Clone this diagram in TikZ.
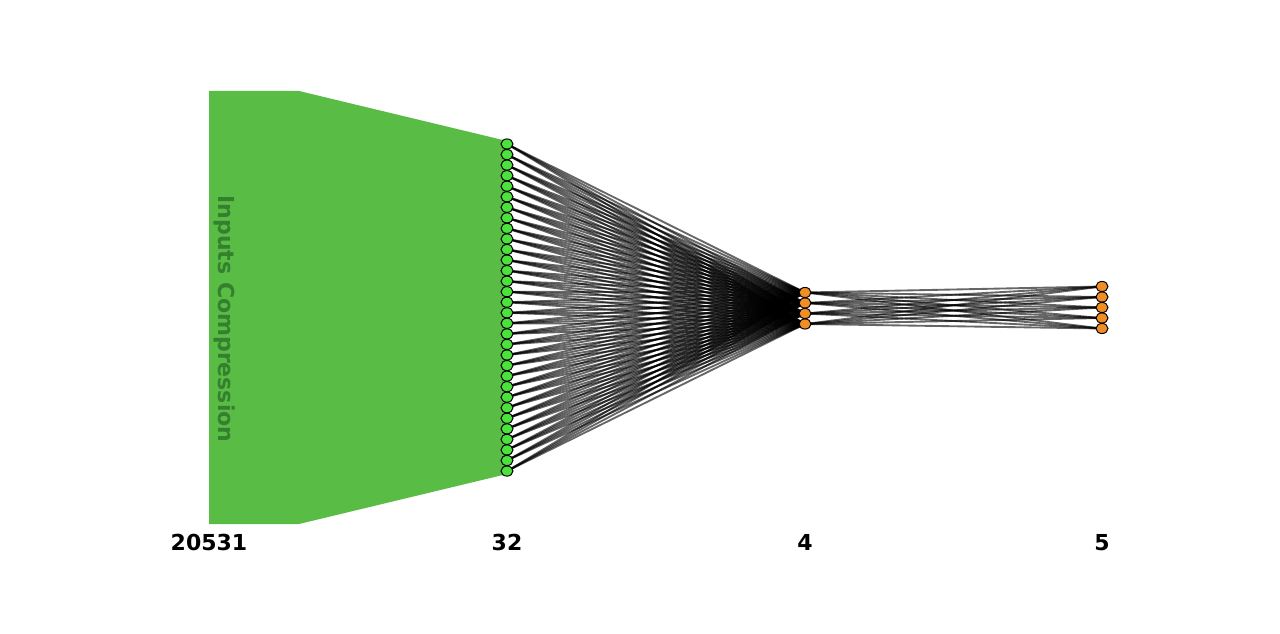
\documentclass[tikz,border=0pt]{standalone}
\usepackage{fontspec}
\setmainfont{DejaVu Sans}
\usetikzlibrary{shapes.geometric,backgrounds}
\pgfdeclarelayer{canvas}
\pgfsetlayers{canvas,background,main}
\definecolor{regfill}{RGB}{89,188,69}
\definecolor{regtext}{RGB}{52,128,46}
\definecolor{gnode}{RGB}{76,226,60}
\definecolor{onode}{RGB}{240,142,38}
\tikzset{
  neuron/.style={ellipse,draw=black,line width=0.75pt,minimum width=9pt,minimum height=7.6pt,inner sep=0pt},
  gneuron/.style={neuron,fill=gnode},
  oneuron/.style={neuron,fill=onode},
  link/.style={draw=black,draw opacity=0.6,line width=1.4pt},
  layerlabel/.style={font=\bfseries\fontsize{16.5}{18}\selectfont,text=black,inner sep=0pt,anchor=center},
  regionlabel/.style={font=\bfseries\fontsize{16.5}{18}\selectfont,text=regtext,inner sep=0pt,rotate=-90,anchor=center}
}
\begin{document}
\begin{tikzpicture}[x=0.75pt,y=-0.75pt]
\useasboundingbox (0,0) rectangle (1280,634);
\begin{pgfonlayer}{canvas}
\fill[white] (0,0) rectangle (1280,634);
% compression region
\fill[regfill] (209,91) -- (299,91) -- (507,141) -- (507,474) -- (299,524) -- (209,524) -- cycle;
\end{pgfonlayer}
\node[regionlabel] (reg) at (225,319) {Inputs Compression};
% nodes
\foreach \i in {1,...,32} {
  \node[gneuron] (g\i) at (507,{144+(\i-1)*10.55}) {};
}
\foreach \j in {1,...,4} {
  \node[oneuron] (o\j) at (805,{292.5+(\j-1)*10.5}) {};
}
\foreach \k in {1,...,5} {
  \node[oneuron] (p\k) at (1102,{286.5+(\k-1)*10.5}) {};
}
% connectors
\begin{scope}[on background layer]
\foreach \i in {1,...,32} {
  \foreach \j in {1,...,4} {
    \draw[link] (g\i.center) -- (o\j.center);
  }
}
\foreach \j in {1,...,4} {
  \foreach \k in {1,...,5} {
    \draw[link] (o\j.center) -- (p\k.center);
  }
}
\end{scope}
% labels
\node[layerlabel] (l0) at (209,542.5) {20531};
\node[layerlabel] (l1) at (507,542.5) {32};
\node[layerlabel] (l2) at (805,542.5) {4};
\node[layerlabel] (l3) at (1102,542.5) {5};
\end{tikzpicture}
\end{document}
